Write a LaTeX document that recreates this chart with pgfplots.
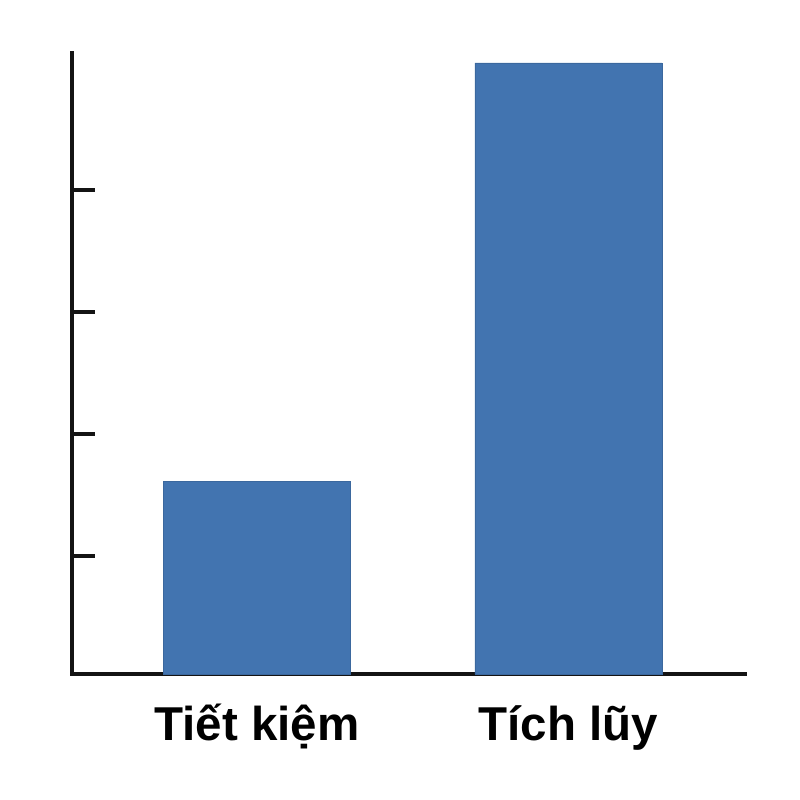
\documentclass[border=0pt]{standalone}
\usepackage{pgfplots}
\pgfplotsset{compat=1.18}
\usepackage{fontspec}
\setmainfont{Liberation Sans}
\definecolor{barblue}{HTML}{4274B0}
\definecolor{axblack}{HTML}{141414}
\begin{document}
\begin{tikzpicture}
\path (-72pt,-126pt) rectangle (728pt,674pt);
\begin{axis}[
  scale only axis,
  width=673pt, height=621pt,
  xmin=-0.594, xmax=1.567,
  ymin=0, ymax=5.175,
  axis x line*=bottom, axis y line*=left,
  axis line style={line width=4.5pt, color=axblack, line cap=rect},
  xtick={0,1},
  xticklabels={Tiết kiệm, Tích lũy},
  x tick style={draw=none},
  ytick={0.983,1.999,3.016,4.033},
  yticklabels={},
  y tick style={line width=4pt, color=axblack},
  tick align=inside,
  major tick length=23pt,
  xticklabel style={anchor=base, yshift=-43pt, font=\fontsize{47.5}{52}\selectfont\bfseries, inner sep=0pt},
  ybar, bar width=0.6,
]
\addplot[fill=barblue, draw=barblue!90!black, line width=0.5pt] coordinates {(0,1.608) (1,5.092)};
\end{axis}
\end{tikzpicture}
\end{document}
